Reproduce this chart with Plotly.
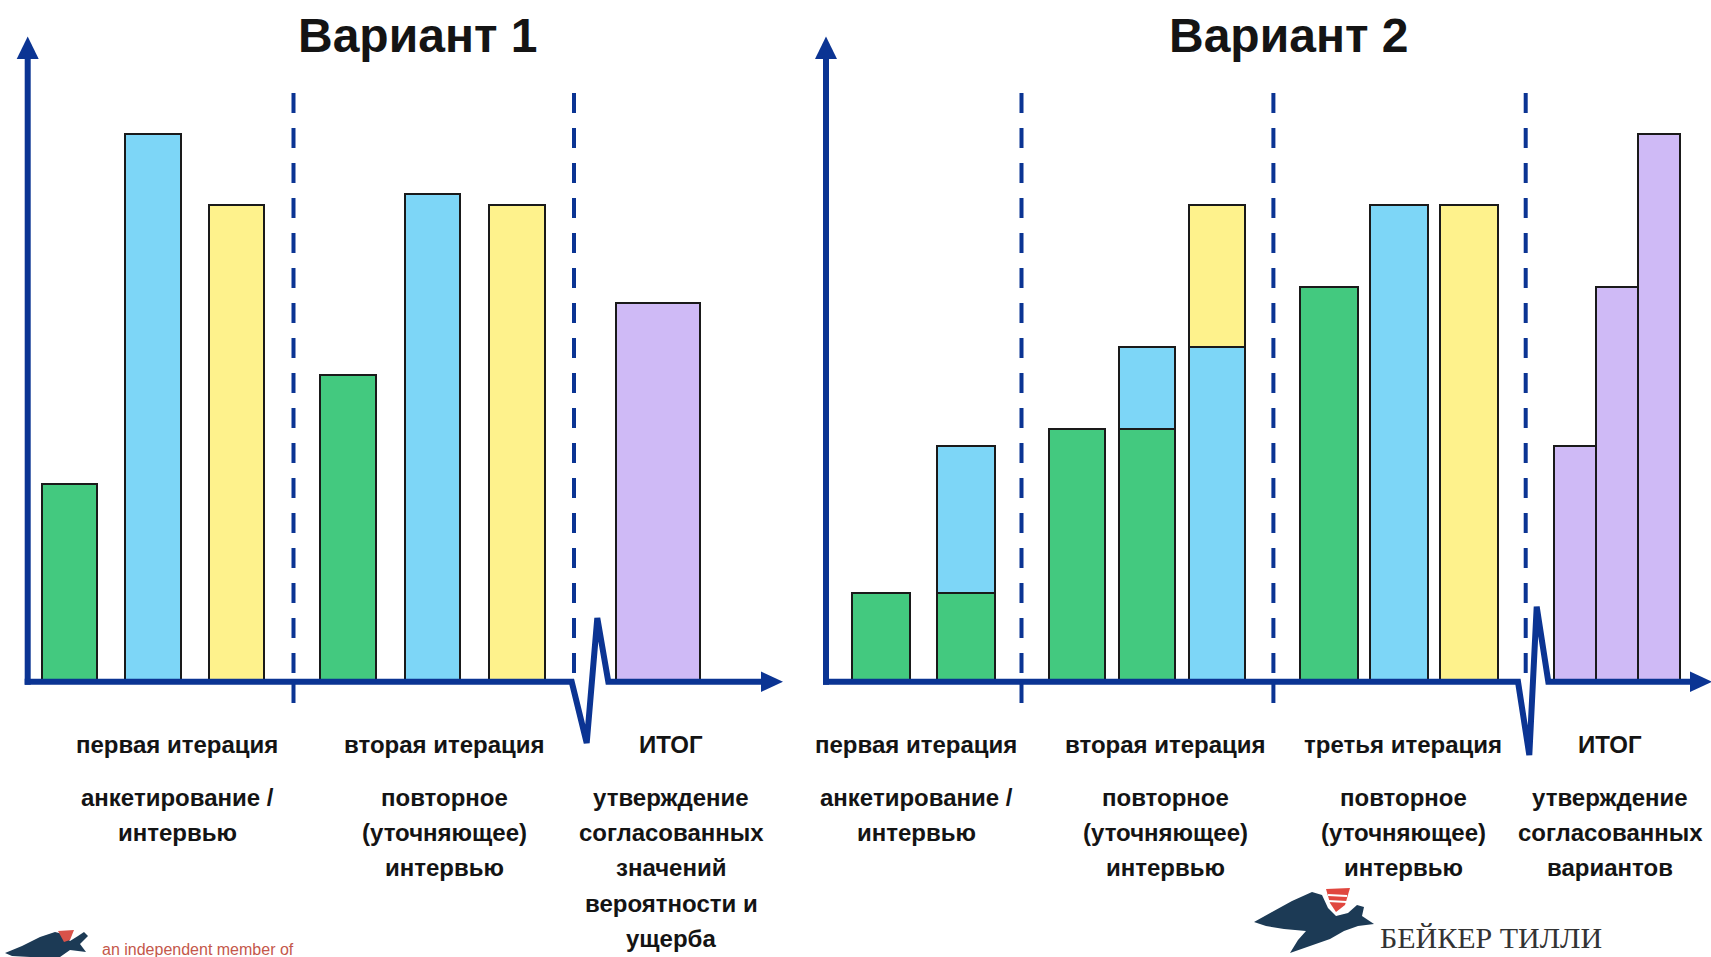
import plotly.graph_objects as go

# ---------------- data ----------------
# bar heights in relative units (100 = tallest bar); None = no segment in that slot
series_names = ["green", "blue", "yellow", "purple"]
series_colors = {"green": "#43C97F", "blue": "#7DD6F7", "yellow": "#FEF28C", "purple": "#CFBAF6"}

# Вариант 1: three opinions per iteration, one final bar
v1_title = "Вариант 1"
v1_stages = ["первая итерация", "вторая итерация", "ИТОГ"]
v1_notes = [
    ["анкетирование /", "интервью"],
    ["повторное", "(уточняющее)", "интервью"],
    ["утверждение", "согласованных", "значений", "вероятности и", "ущерба"],
]
v1_green = [36, None, None, 56, None, None, None]
v1_blue = [None, 100, None, None, 89, None, None]
v1_yellow = [None, None, 87, None, None, 87, None]
v1_purple = [None, None, None, None, None, None, 69]

# Вариант 2: opinions accumulate from iteration to iteration
v2_title = "Вариант 2"
v2_stages = ["первая итерация", "вторая итерация", "третья итерация", "ИТОГ"]
v2_notes = [
    ["анкетирование /", "интервью"],
    ["повторное", "(уточняющее)", "интервью"],
    ["повторное", "(уточняющее)", "интервью"],
    ["утверждение", "согласованных", "вариантов"],
]
v2_green = [16, 16, 46, 46, None, 72, None, None, None, None, None]
v2_blue = [None, 27, None, 15, 61, None, 87, None, None, None, None]
v2_yellow = [None, None, None, None, 26, None, None, 87, None, None, None]
v2_purple = [None, None, None, None, None, None, None, None, 43, 72, 100]

logo_caption = "an independent member of"
logo_name = "БЕЙКЕР ТИЛЛИ"

# ---------------- layout constants (px) ----------------
W, H = 1711, 957
BASE_PX = 681.7        # pixel row of value 0
PX_PER_UNIT = 5.467    # pixels per value unit
AXIS_COLOR = "#0B3493"
TEXT_COLOR = "#141414"
FONT = "Liberation Sans, Arial, sans-serif"

# bar groups: (left edge, bar width, step, number of bars)
V1_GROUPS = [(42.6, 55.6, 83.6, 3), (321.0, 55.6, 84.5, 3), (616.5, 84.5, 0.0, 1)]
V2_GROUPS = [(853.0, 57.5, 85.0, 2), (1049.6, 56.5, 70.0, 3), (1301.0, 57.5, 70.0, 3), (1555.0, 42.0, 42.0, 3)]

V1_SEPARATORS = [293.5, 574.0]
V2_SEPARATORS = [1021.5, 1273.4, 1525.7]
V1_LABEL_X = [177, 444, 671]
V2_LABEL_X = [916, 1165, 1403, 1610]
V1_TITLE_X, V2_TITLE_X = 417, 1288


def yv(py):
    """pixel row -> value-axis coordinate"""
    return (BASE_PX - py) / PX_PER_UNIT


def slot_geometry(groups):
    xs, ws = [], []
    for left, width, step, count in groups:
        for i in range(count):
            xs.append(left + width / 2 + i * step)
            ws.append(width)
    return xs, ws


def path(points, close=False):
    d = "M" + " L".join(f"{x:.1f},{yv(y):.3f}" for x, y in points)
    return d + (" Z" if close else "")


fig = go.Figure()

for groups, values in [
    (V1_GROUPS, [v1_green, v1_blue, v1_yellow, v1_purple]),
    (V2_GROUPS, [v2_green, v2_blue, v2_yellow, v2_purple]),
]:
    xs, ws = slot_geometry(groups)
    for name, vals in zip(series_names, values):
        fig.add_trace(go.Bar(
            x=xs, y=vals, width=ws, name=name,
            marker=dict(color=series_colors[name], line=dict(color="#1A1A1A", width=1.8)),
            hoverinfo="skip", showlegend=False,
        ))

shapes = []
line = dict(color=AXIS_COLOR, width=6)

# value axes with arrowheads
for ax_x in (27.7, 826.0):
    shapes.append(dict(type="path", path=path([(ax_x, BASE_PX + 3), (ax_x, 58)]), line=line))
    shapes.append(dict(type="path", path=path([(ax_x - 11, 59), (ax_x, 36.5), (ax_x + 11, 59)], True),
                       line=dict(width=0), fillcolor=AXIS_COLOR))

# category axes with a break before the final column
shapes.append(dict(type="path", line=line, path=path([
    (24.7, BASE_PX), (571.7, BASE_PX), (586.7, 743), (597.3, 618), (608.3, BASE_PX), (764, BASE_PX)])))
shapes.append(dict(type="path", path=path([(761, 671.5), (783, BASE_PX), (761, 692)], True),
                   line=dict(width=0), fillcolor=AXIS_COLOR))
shapes.append(dict(type="path", line=line, path=path([
    (823.0, BASE_PX), (1518, BASE_PX), (1529.3, 755), (1536.7, 606.7), (1548.3, BASE_PX), (1693, BASE_PX)])))
shapes.append(dict(type="path", path=path([(1690, 671.5), (1712, BASE_PX), (1690, 692)], True),
                   line=dict(width=0), fillcolor=AXIS_COLOR))

# dashed separators between iterations and small ticks under the axis
for sx in V1_SEPARATORS + V2_SEPARATORS:
    shapes.append(dict(type="line", x0=sx, x1=sx, y0=yv(93), y1=yv(676), layer="below",
                       line=dict(color=AXIS_COLOR, width=4, dash="20px,15px")))
for sx in [V1_SEPARATORS[0]] + V2_SEPARATORS[:2]:
    shapes.append(dict(type="line", x0=sx, x1=sx, y0=yv(BASE_PX), y1=yv(703),
                       line=dict(color=AXIS_COLOR, width=4)))

# birds of the logo
NAVY = "#1C3A55"
shapes.append(dict(type="path", fillcolor=NAVY, line=dict(width=0), path=path([
    (5, 953), (22, 946), (40, 937), (55, 932), (63, 934), (70, 941), (78, 936), (84, 932),
    (88, 936), (80, 944), (86, 952), (70, 950), (60, 957), (30, 957), (12, 956)], True)))
shapes.append(dict(type="path", fillcolor="#D9534A", line=dict(width=0), path=path([
    (58, 931), (74, 930), (70, 940), (64, 942)], True)))
shapes.append(dict(type="path", fillcolor=NAVY, line=dict(width=0), path=path([
    (1254, 922), (1272, 912), (1292, 901), (1312, 892), (1322, 895), (1328, 908), (1336, 916),
    (1348, 913), (1357, 905), (1364, 907), (1362, 916), (1374, 924), (1358, 926), (1344, 931),
    (1330, 939), (1310, 946), (1290, 953), (1298, 940), (1306, 931), (1284, 929), (1266, 926)], True)))
shapes.append(dict(type="path", fillcolor="#E0473F", line=dict(width=0), path=path([
    (1326, 889), (1350, 888), (1345, 905), (1336, 912), (1330, 903)], True)))
for yy in (895, 901):
    shapes.append(dict(type="line", x0=1328, x1=1347, y0=yv(yy), y1=yv(yy + 1),
                       line=dict(color="white", width=2)))

annotations = []


def text(x, py, s, size, color=TEXT_COLOR, family=FONT, weight="bold", xanchor="center", yanchor="middle"):
    annotations.append(dict(x=x, y=yv(py), xref="x", yref="y", text=s, showarrow=False,
                            xanchor=xanchor, yanchor=yanchor,
                            font=dict(family=family, size=size, color=color, weight=weight)))


text(V1_TITLE_X, 35, v1_title, 48)
text(V2_TITLE_X, 35, v2_title, 48)

NOTE_ROWS = [797, 832, 867, 903, 938]
for xs, stages, notes in [(V1_LABEL_X, v1_stages, v1_notes), (V2_LABEL_X, v2_stages, v2_notes)]:
    for x, stage, lines in zip(xs, stages, notes):
        text(x, 744, stage, 24)
        for row, s in zip(NOTE_ROWS, lines):
            text(x, row, s, 24)

text(100, 949, logo_caption, 16, color="#C4574A", weight="normal", xanchor="left")
text(1378, 956, logo_name, 30, color="#333333", family="Liberation Serif, serif", weight="normal",
     xanchor="left", yanchor="bottom")

fig.update_layout(
    width=W, height=H, margin=dict(l=0, r=0, t=0, b=0),
    paper_bgcolor="white", plot_bgcolor="white",
    barmode="stack", bargap=0, showlegend=False,
    xaxis=dict(range=[0, W], visible=False, fixedrange=True),
    yaxis=dict(range=[yv(H), yv(0)], visible=False, fixedrange=True),
    shapes=shapes, annotations=annotations,
)

fig.write_html("out.html", config={"displayModeBar": False})
